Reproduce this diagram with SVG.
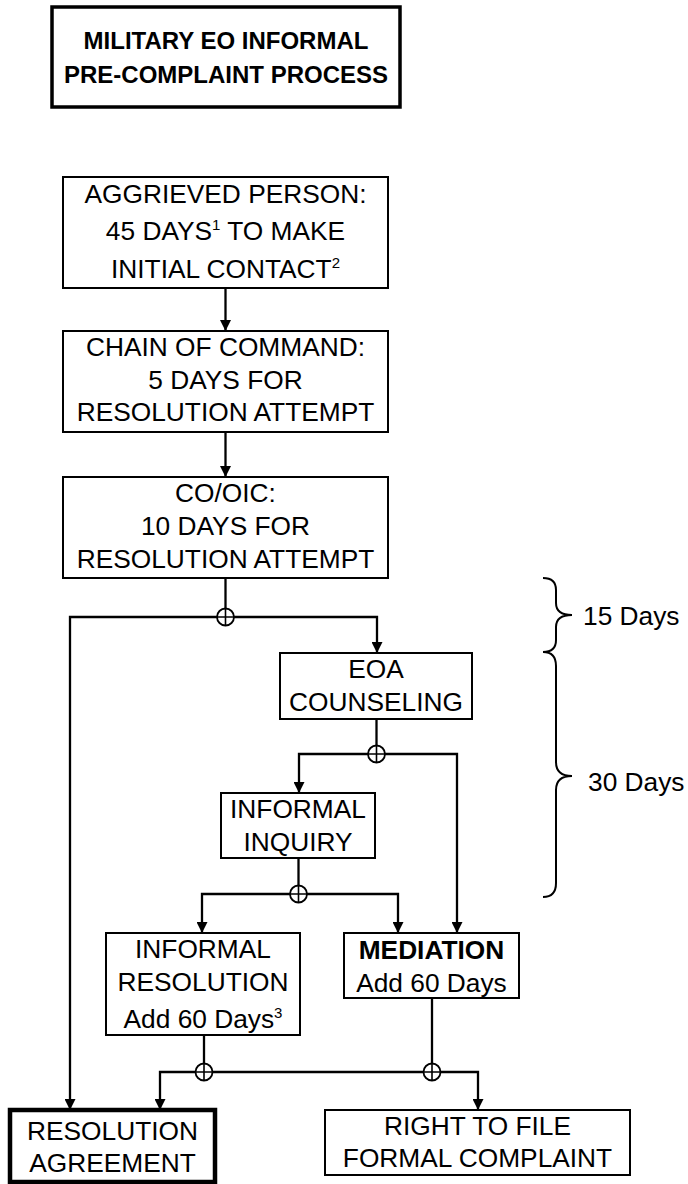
<svg xmlns="http://www.w3.org/2000/svg" width="688" height="1184" viewBox="0 0 688 1184">
<defs>
<marker id="arr" viewBox="0 0 10 10" refX="10" refY="5" markerWidth="11" markerHeight="11" markerUnits="userSpaceOnUse" orient="auto">
<path d="M0,0 L10,5 L0,10 z" fill="#000"/>
</marker>
<style>
.box{fill:#fff;stroke:#000;stroke-width:2}
.thick{stroke-width:4.5}
.t{font-family:"Liberation Sans",Arial,sans-serif;font-size:26.3px;text-anchor:middle;fill:#000}
.b{font-weight:bold}
.conn{stroke:#000;stroke-width:2.3;fill:none}
.arrow{marker-end:url(#arr)}
.j{fill:#fff;stroke:#000;stroke-width:1.8}
.jx{stroke:#000;stroke-width:1.6;fill:none}
.brace{stroke:#000;stroke-width:2;fill:none}
.sup{font-size:15px}
</style>
</defs>
<g id="title">
<rect class="box" x="52" y="7" width="348" height="100" style="stroke-width:3.5"/>
<text class="t b" x="226" y="49" style="font-size:24px">MILITARY EO INFORMAL</text>
<text class="t b" x="226" y="83" style="font-size:24px">PRE-COMPLAINT PROCESS</text>
</g>
<g id="aggrieved">
<rect class="box" x="63" y="177" width="325" height="111"/>
<text class="t" x="225.5" y="203">AGGRIEVED PERSON:</text>
<text class="t" x="225.5" y="240">45 DAYS<tspan class="sup" dy="-10">1</tspan><tspan dy="10"> TO MAKE</tspan></text>
<text class="t" x="225.5" y="278">INITIAL CONTACT<tspan class="sup" dy="-10">2</tspan></text>
</g>
<g id="chain">
<rect class="box" x="63" y="331" width="325" height="101"/>
<text class="t" x="225.5" y="356">CHAIN OF COMMAND:</text>
<text class="t" x="225.5" y="388.5">5 DAYS FOR</text>
<text class="t" x="225.5" y="421">RESOLUTION ATTEMPT</text>
</g>
<g id="cooic">
<rect class="box" x="63" y="477" width="325" height="101"/>
<text class="t" x="225.5" y="502">CO/OIC:</text>
<text class="t" x="225.5" y="535">10 DAYS FOR</text>
<text class="t" x="225.5" y="568">RESOLUTION ATTEMPT</text>
</g>
<g id="eoa">
<rect class="box" x="280" y="653" width="192" height="66"/>
<text class="t" x="376" y="678">EOA</text>
<text class="t" x="376" y="711">COUNSELING</text>
</g>
<g id="inquiry">
<rect class="box" x="221" y="793" width="154" height="65"/>
<text class="t" x="298" y="818">INFORMAL</text>
<text class="t" x="298" y="851">INQUIRY</text>
</g>
<g id="informal-resolution">
<rect class="box" x="106" y="933" width="194" height="102"/>
<text class="t" x="203" y="958">INFORMAL</text>
<text class="t" x="203" y="991">RESOLUTION</text>
<text class="t" x="203" y="1028">Add 60 Days<tspan class="sup" dy="-10">3</tspan></text>
</g>
<g id="mediation">
<rect class="box" x="344" y="933" width="175" height="65"/>
<text class="t b" x="431.5" y="959">MEDIATION</text>
<text class="t" x="431.5" y="992">Add 60 Days</text>
</g>
<g id="resolution-agreement">
<rect class="box thick" x="10" y="1110" width="205" height="72"/>
<text class="t" x="112.5" y="1140">RESOLUTION</text>
<text class="t" x="112.5" y="1172">AGREEMENT</text>
</g>
<g id="right-to-file">
<rect class="box" x="325" y="1110" width="305" height="65"/>
<text class="t" x="477.5" y="1135">RIGHT TO FILE</text>
<text class="t" x="477.5" y="1167">FORMAL COMPLAINT</text>
</g>
<g id="braces">
<path class="brace" d="M543,578 Q556,578 556,590 L556,603 Q556,615 572,615 Q556,615 556,627 L556,640 Q556,652 543,652"/>
<text class="t" x="583" y="625" style="text-anchor:start">15 Days</text>
<path class="brace" d="M543,652 Q556,652 556,666 L556,762 Q556,776 572,776 Q556,776 556,790 L556,883 Q556,897 543,897"/>
<text class="t" x="588" y="791" style="text-anchor:start">30 Days</text>
</g>
<g id="connectors">
<line class="conn arrow" x1="225.5" y1="288" x2="225.5" y2="331"/>
<line class="conn arrow" x1="225.5" y1="432" x2="225.5" y2="477"/>
<line class="conn" x1="225.5" y1="578" x2="225.5" y2="617"/>
<polyline class="conn arrow" points="225.5,617 70,617 70,1110"/>
<polyline class="conn arrow" points="225.5,617 377,617 377,653"/>
<line class="conn" x1="376.5" y1="719" x2="376.5" y2="754"/>
<polyline class="conn arrow" points="376.5,754 299,754 299,793"/>
<polyline class="conn arrow" points="376.5,754 457,754 457,933"/>
<line class="conn" x1="298.5" y1="858" x2="298.5" y2="894"/>
<polyline class="conn arrow" points="298.5,894 202,894 202,933"/>
<polyline class="conn arrow" points="298.5,894 398,894 398,933"/>
<line class="conn" x1="204" y1="1035" x2="204" y2="1072"/>
<line class="conn" x1="432" y1="998" x2="432" y2="1072"/>
<polyline class="conn arrow" points="204,1072 160,1072 160,1110"/>
<line class="conn" x1="204" y1="1072" x2="432" y2="1072"/>
<polyline class="conn arrow" points="432,1072 478,1072 478,1110"/>
<circle class="j" cx="225.5" cy="617" r="8.5"/><path class="jx" d="M217,617 H234 M225.5,608.5 V625.5"/>
<circle class="j" cx="376.5" cy="754" r="8.5"/><path class="jx" d="M368,754 H385 M376.5,745.5 V762.5"/>
<circle class="j" cx="298.5" cy="894" r="8.5"/><path class="jx" d="M290,894 H307 M298.5,885.5 V902.5"/>
<circle class="j" cx="204" cy="1072" r="8.5"/><path class="jx" d="M195.5,1072 H212.5 M204,1063.5 V1080.5"/>
<circle class="j" cx="432" cy="1072" r="8.5"/><path class="jx" d="M423.5,1072 H440.5 M432,1063.5 V1080.5"/>
</g>
</svg>
